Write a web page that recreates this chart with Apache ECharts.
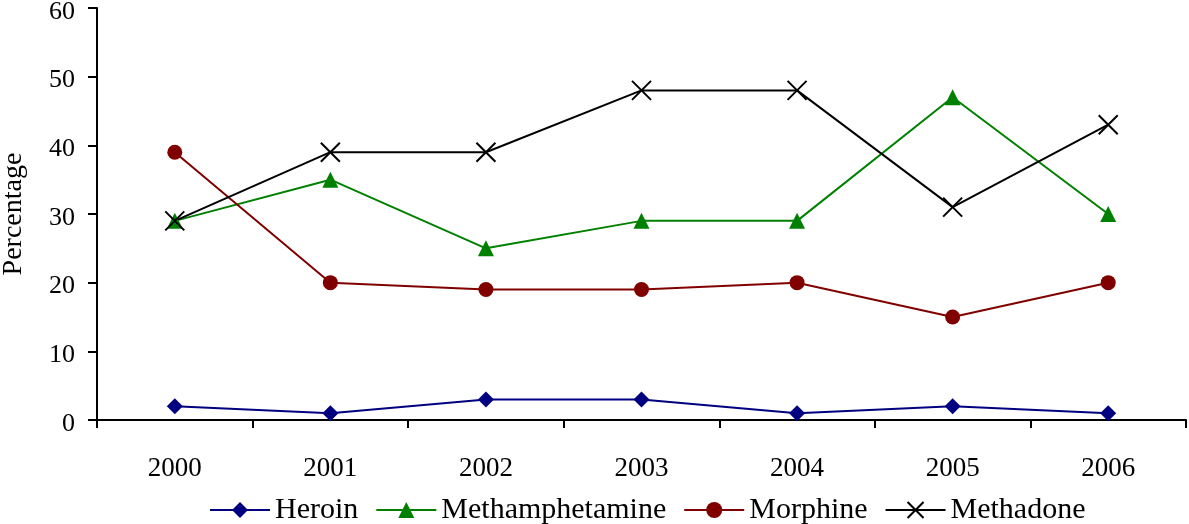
<!DOCTYPE html>
<html>
<head>
<meta charset="utf-8">
<script src="https://cdn.jsdelivr.net/npm/echarts@6/dist/echarts.min.js"></script>
<style>
  html, body { margin: 0; padding: 0; background: #fff; }
  #chart { width: 1189px; height: 524px; }
</style>
</head>
<body>
<div id="chart"></div>
<script>
// Years on the category axis
const years = ['2000', '2001', '2002', '2003', '2004', '2005', '2006'];

// Share of cases (%) for each substance
const heroin = [2, 1, 3, 3, 1, 2, 1];
const methamphetamine = [29, 35, 25, 29, 29, 47, 30];
const morphine = [39, 20, 19, 19, 20, 15, 20];
const methadone = [29, 39, 39, 48, 48, 31, 43];

const FONT = '"Liberation Serif", "DejaVu Serif", serif';
const CROSS = 'path://M0,0L10,10M10,0L0,10';

function lineSeries(name, data, color, symbol, size, extra) {
  return Object.assign({
    name: name,
    type: 'line',
    data: data,
    symbol: symbol,
    symbolSize: size,
    showAllSymbol: true,
    lineStyle: { color: color, width: 2 },
    itemStyle: { color: color },
    emphasis: { disabled: true },
    animation: false
  }, extra || {});
}

const chart = echarts.init(document.getElementById('chart'));
chart.setOption({
  backgroundColor: '#fff',
  textStyle: { fontFamily: FONT },
  grid: { left: 97, right: 3, top: 8, bottom: 104, containLabel: false, outerBoundsMode: 'none' },
  legend: {
    top: 490,
    left: 204,
    itemWidth: 60,
    itemHeight: 20,
    itemGap: 17,
    textStyle: { fontFamily: FONT, fontSize: 30, color: '#000' },
    data: ['Heroin', 'Methamphetamine', 'Morphine', 'Methadone']
  },
  xAxis: {
    type: 'category',
    data: years,
    boundaryGap: true,
    axisLine: { lineStyle: { color: '#000', width: 2 } },
    axisTick: { show: true, length: 8, lineStyle: { color: '#000', width: 2 } },
    axisLabel: { color: '#000', fontSize: 27, fontFamily: FONT, margin: 35 },
    splitLine: { show: false }
  },
  yAxis: {
    type: 'value',
    min: 0,
    max: 60,
    interval: 10,
    name: 'Percentage',
    nameLocation: 'middle',
    nameGap: 69,
    nameTextStyle: { color: '#000', fontSize: 28, fontFamily: FONT },
    axisLine: { show: true, lineStyle: { color: '#000', width: 2 } },
    axisTick: { show: true, length: 9, lineStyle: { color: '#000', width: 2 } },
    // labels sit slightly below their ticks
    axisLabel: { color: '#000', fontSize: 26, fontFamily: FONT, margin: 22, verticalAlign: 'top', lineHeight: 8 },
    splitLine: { show: false }
  },
  series: [
    lineSeries('Heroin', heroin, '#000080', 'diamond', 16),
    lineSeries('Methamphetamine', methamphetamine, '#008000', 'triangle', 16),
    lineSeries('Morphine', morphine, '#800000', 'circle', 15),
    lineSeries('Methadone', methadone, '#000000', CROSS, 19, {
      itemStyle: { color: 'none', borderColor: '#000', borderWidth: 2 }
    })
  ]
});
</script>
</body>
</html>
